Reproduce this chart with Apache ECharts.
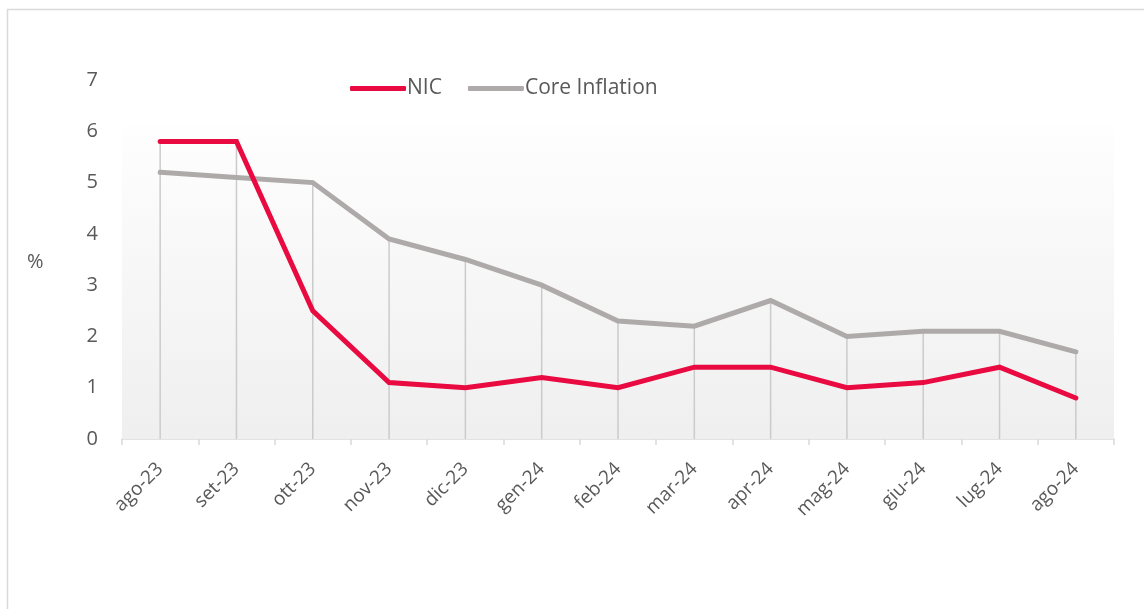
<!DOCTYPE html>
<html>
<head>
<meta charset="utf-8">
<script src="https://cdn.jsdelivr.net/npm/echarts@6/dist/echarts.min.js"></script>
<style>
html,body{margin:0;padding:0;background:#fff;}
#chart{width:1144px;height:609px;}
</style>
</head>
<body>
<div id="chart"></div>
<script>
const categories = ['ago-23','set-23','ott-23','nov-23','dic-23','gen-24','feb-24','mar-24','apr-24','mag-24','giu-24','lug-24','ago-24'];
const nic = [5.8, 5.8, 2.5, 1.1, 1.0, 1.2, 1.0, 1.4, 1.4, 1.0, 1.1, 1.4, 0.8];
const core = [5.2, 5.1, 5.0, 3.9, 3.5, 3.0, 2.3, 2.2, 2.7, 2.0, 2.1, 2.1, 1.7];
const yTicks = [0, 1, 2, 3, 4, 5, 6, 7];

const dropTops = categories.map((c, i) => Math.max(nic[i], core[i]));
const FONT = '"Open Sans", "Noto Sans", sans-serif';

const chart = echarts.init(document.getElementById('chart'));
chart.setOption({
  animation: false,
  backgroundColor: '#ffffff',
  textStyle: { fontFamily: FONT },
  graphic: [
    { type: 'rect', shape: { x: 7.5, y: 9.5, width: 1300, height: 800 },
      style: { fill: 'none', stroke: '#d9d9d9', lineWidth: 1.5 }, z: -10 },
    { type: 'text', left: 27, top: 252,
      style: { text: '%', fill: '#595959', font: '20px ' + FONT } }
  ],
  legend: {
    left: 345, top: 73,
    data: ['NIC', 'Core Inflation'],
    itemWidth: 56, itemHeight: 5, itemGap: 26,
    icon: 'roundRect',
    textStyle: { color: '#595959', fontSize: 21, fontFamily: FONT, padding: [0, 0, 0, -4] }
  },
  grid: { left: 122, right: 30, top: 80, bottom: 170 },
  xAxis: {
    type: 'category',
    data: categories,
    boundaryGap: true,
    axisLine: { lineStyle: { color: '#d9d9d9', width: 1.5 } },
    axisTick: { show: true, length: 6, lineStyle: { color: '#d9d9d9', width: 1.5 } },
    axisLabel: { rotate: 45, color: '#595959', fontSize: 19, fontFamily: FONT, margin: 27, interval: 0 },
    splitLine: { show: false }
  },
  yAxis: {
    type: 'value',
    min: yTicks[0], max: yTicks[yTicks.length - 1], interval: 1,
    axisLine: { show: false }, axisTick: { show: false },
    splitLine: { show: false },
    axisLabel: { color: '#595959', fontSize: 20, fontFamily: FONT, margin: 24 }
  },
  series: [
    {
      name: 'drop', type: 'bar', data: dropTops, barWidth: 1.5, silent: true,
      itemStyle: { color: '#cbcbcb' }, z: 1,
      markArea: {
        silent: true,
        itemStyle: {
          color: { type: 'linear', x: 0, y: 0, x2: 0, y2: 1,
            colorStops: [{ offset: 0, color: '#fefefe' }, { offset: 1, color: '#efefef' }] }
        },
        data: [[{ yAxis: 0 }, { yAxis: 6.1 }]]
      }
    },
    {
      name: 'NIC', type: 'line', data: nic, symbol: 'none', z: 3,
      lineStyle: { color: '#e80a40', width: 5, cap: 'round', join: 'miter' },
      itemStyle: { color: '#e80a40' }
    },
    {
      name: 'Core Inflation', type: 'line', data: core, symbol: 'none', z: 2,
      lineStyle: { color: '#aeaaaa', width: 5, cap: 'round', join: 'miter' },
      itemStyle: { color: '#aeaaaa' }
    }
  ]
});
</script>
</body>
</html>
